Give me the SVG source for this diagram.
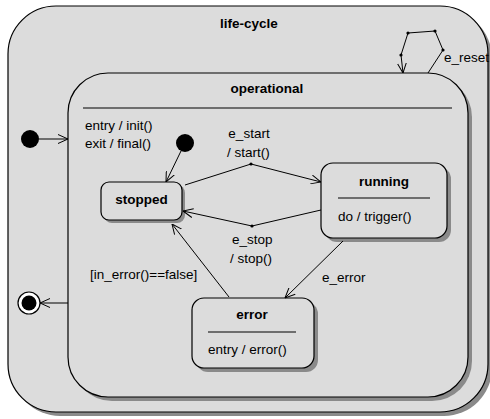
<svg xmlns="http://www.w3.org/2000/svg" width="490" height="419" viewBox="0 0 490 419">
  <style>
    .state { fill: #dcdcdc; stroke: #000; stroke-width: 1.2; }
    .shadow { fill: #8a8a8a; stroke: none; }
    .sep { stroke: #000; stroke-width: 1.2; }
    .edge { fill: none; stroke: #000; stroke-width: 1; }
    .title { font-family: "Liberation Sans", Arial, sans-serif; font-size: 13.5px; font-weight: bold; fill: #000; }
    .txt { font-family: "Liberation Sans", Arial, sans-serif; font-size: 13.5px; fill: #000; }
    .dot { fill: #000; }
  </style>
  <defs>
    <marker id="open" viewBox="0 0 10 10" refX="10" refY="5" markerWidth="10" markerHeight="10" markerUnits="userSpaceOnUse" orient="auto">
      <path d="M0,0.5 L10,5 L0,9.5" fill="none" stroke="#000" stroke-width="1"/>
    </marker>
  </defs>

  <rect width="490" height="419" fill="#fff"/>

  <!-- composite state: life-cycle -->
  <g id="life-cycle">
    <rect class="shadow" x="12" y="10" width="480" height="406" rx="48" ry="48"/>
    <rect class="state" x="8" y="6" width="480" height="406" rx="48" ry="48"/>
    <text class="title" x="249" y="28" text-anchor="middle">life-cycle</text>
  </g>

  <!-- outer initial pseudo-state -->
  <g id="initial-outer">
    <circle class="dot" cx="30" cy="139" r="9"/>
  </g>

  <!-- outer final state -->
  <g id="final">
    <circle cx="29" cy="303" r="11" fill="#fff" stroke="#000" stroke-width="1.2"/>
    <circle class="dot" cx="29" cy="303" r="7.5"/>
  </g>

  <!-- composite state: operational -->
  <g id="operational">
    <rect class="shadow" x="72" y="77" width="400" height="324" rx="40" ry="40"/>
    <rect class="state" x="68" y="73" width="400" height="324" rx="40" ry="40"/>
    <text class="title" x="267" y="93" text-anchor="middle">operational</text>
    <line class="sep" x1="83" y1="108" x2="452" y2="108"/>
    <text class="txt" x="85" y="130">entry / init()</text>
    <text class="txt" x="85" y="148">exit / final()</text>
  </g>

  <!-- inner initial pseudo-state -->
  <g id="initial-inner">
    <circle class="dot" cx="185" cy="143" r="9"/>
  </g>

  <g id="stopped">
    <rect class="shadow" x="104" y="185" width="81" height="38" rx="8" ry="8"/>
    <rect class="state" x="101" y="182" width="81" height="38" rx="8" ry="8"/>
    <text class="title" x="141.5" y="204" text-anchor="middle">stopped</text>
  </g>

  <g id="running">
    <rect class="shadow" x="325" y="167" width="126" height="75" rx="12" ry="12"/>
    <rect class="state" x="321" y="163" width="126" height="75" rx="12" ry="12"/>
    <text class="title" x="384" y="186" text-anchor="middle">running</text>
    <line class="sep" x1="338" y1="198" x2="430" y2="198"/>
    <text class="txt" x="338" y="221">do / trigger()</text>
  </g>

  <g id="error">
    <rect class="shadow" x="196" y="302" width="122" height="70" rx="12" ry="12"/>
    <rect class="state" x="192" y="298" width="122" height="70" rx="12" ry="12"/>
    <text class="title" x="252" y="319" text-anchor="middle">error</text>
    <line class="sep" x1="208" y1="332" x2="296" y2="332"/>
    <text class="txt" x="208" y="354">entry / error()</text>
  </g>

  <!-- transitions -->
  <g id="connectors">
    <line class="edge" x1="39" y1="139" x2="68" y2="139" marker-end="url(#open)"/>
    <line class="edge" x1="68" y1="303" x2="40" y2="303" marker-end="url(#open)"/>
    <line class="edge" x1="181" y1="151" x2="166" y2="182" marker-end="url(#open)"/>

    <polyline class="edge" points="185,185 251,164 321,182" marker-end="url(#open)"/>
    <circle class="dot" cx="251" cy="164" r="1.6"/>
    <text class="txt" x="249" y="138" text-anchor="middle">e_start</text>
    <text class="txt" x="227" y="157">/ start()</text>

    <polyline class="edge" points="321,210 252,226 183,211" marker-end="url(#open)"/>
    <circle class="dot" cx="252" cy="226" r="1.6"/>
    <text class="txt" x="232" y="244">e_stop</text>
    <text class="txt" x="230" y="263">/ stop()</text>

    <line class="edge" x1="343" y1="241" x2="285" y2="298" marker-end="url(#open)"/>
    <text class="txt" x="322" y="282">e_error</text>

    <line class="edge" x1="229" y1="297" x2="172" y2="224" marker-end="url(#open)"/>
    <text class="txt" x="90" y="279">[in_error()==false]</text>

    <polyline class="edge" points="428,73 443,50 435,31 408,33 401,55 403,73" marker-end="url(#open)"/>
    <circle class="dot" cx="443" cy="50" r="1.6"/>
    <circle class="dot" cx="435" cy="31" r="1.6"/>
    <circle class="dot" cx="408" cy="33" r="1.6"/>
    <circle class="dot" cx="401" cy="55" r="1.6"/>
    <text class="txt" x="444" y="62">e_reset</text>
  </g>
</svg>
